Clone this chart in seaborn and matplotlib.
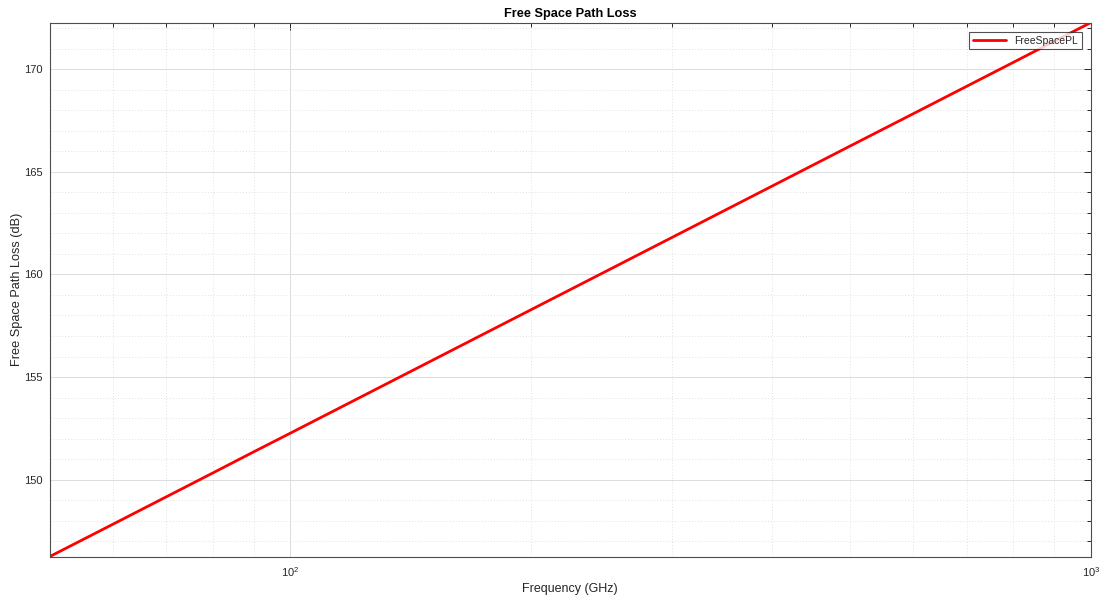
import numpy as np
import pandas as pd
import matplotlib
matplotlib.use("Agg")
import matplotlib.pyplot as plt
from matplotlib.ticker import LogLocator, NullFormatter, MultipleLocator, FixedLocator
import seaborn as sns

# Free-space path loss values (dB) over frequency (GHz)
freq_ghz = [50, 60, 70, 80, 90, 100, 200, 300, 400, 500, 600, 700, 800, 900, 1000]
path_loss_db = [146.25, 147.83, 149.17, 150.33, 151.36, 152.27, 158.29, 161.81,
                164.31, 166.25, 167.83, 169.17, 170.33, 171.36, 172.27]
y_ticks = [150, 155, 160, 165, 170]
series_name = "FreeSpacePL"

df = pd.DataFrame({"Frequency": freq_ghz, series_name: path_loss_db})

sns.set_theme(style="white")
plt.rcParams["font.family"] = ["Liberation Sans", "DejaVu Sans"]
plt.rcParams["mathtext.fontset"] = "custom"
plt.rcParams["mathtext.rm"] = "Liberation Sans"
plt.rcParams["mathtext.it"] = "Liberation Sans:italic"

txt = "#262626"
fig = plt.figure(figsize=(11, 6), dpi=100)
ax = fig.add_axes([0.045, 0.0722, 0.9468, 0.8903])

sns.lineplot(data=df, x="Frequency", y=series_name, color="red", linewidth=2,
             label=series_name, ax=ax)

ax.set_xscale("log")
ax.set_xlim(min(freq_ghz), max(freq_ghz))
ax.set_ylim(min(path_loss_db), max(path_loss_db))

ax.xaxis.set_major_locator(LogLocator(base=10))
ax.xaxis.set_minor_locator(LogLocator(base=10, subs=np.arange(2, 10)))
ax.xaxis.set_minor_formatter(NullFormatter())
ax.yaxis.set_major_locator(FixedLocator(y_ticks))
ax.yaxis.set_minor_locator(MultipleLocator(1))

ax.grid(which="major", color="#dcdcdc", linewidth=0.7, linestyle="-")
ax.grid(which="minor", color="#e2e2e2", linewidth=0.7, linestyle=(0, (1, 2)))
ax.set_axisbelow(True)

ax.tick_params(which="both", direction="in", top=True, right=True,
               colors=txt, labelcolor=txt, labelsize=8, width=0.7)
ax.tick_params(which="major", length=5)
ax.tick_params(axis="y", which="major", pad=5)
ax.tick_params(axis="x", which="major", pad=6)
ax.tick_params(which="minor", length=3)
for s in ax.spines.values():
    s.set_color("#4d4d4d")
    s.set_linewidth(0.8)

ax.set_title("Free Space Path Loss", fontsize=9.2, fontweight="bold", color="black", pad=4)
ax.set_xlabel("Frequency (GHz)", fontsize=9, color=txt, labelpad=3)
ax.set_ylabel("Free Space Path Loss (dB)", fontsize=9.2, color=txt, labelpad=1)

leg = ax.legend(loc="upper right", fontsize=7.5, frameon=True, fancybox=False,
                handlelength=3.2, borderaxespad=0.9, borderpad=0.35)
leg.get_frame().set_edgecolor("#262626")
leg.get_frame().set_linewidth(0.8)
for t in leg.get_texts():
    t.set_color(txt)

fig.savefig("out.png", dpi=100)
